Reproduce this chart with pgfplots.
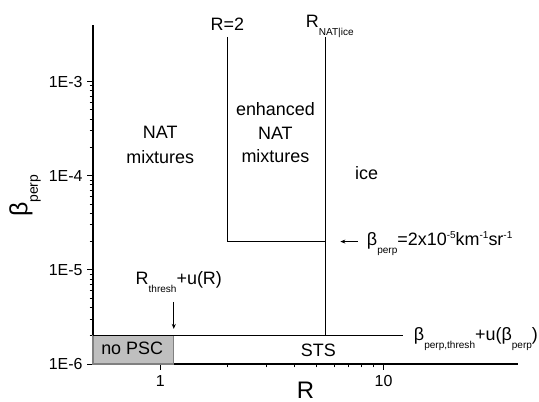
\documentclass[border=0pt]{standalone}
\usepackage{pgfplots}
\pgfplotsset{compat=1.18}
\usepackage{fontspec}
\setmainfont{Liberation Sans}
\usetikzlibrary{arrows.meta}

% Origin-style low subscripts and high superscripts
\newcommand{\lo}[1]{\raisebox{-0.42em}{\scalebox{0.56}{#1}}}
\newcommand{\hi}[1]{\raisebox{0.42em}{\scalebox{0.56}{#1}}}
\newcommand{\fs}[1]{\fontsize{#1}{#1}\selectfont}

\begin{document}
\begin{tikzpicture}
\useasboundingbox (-93bp,-38bp) rectangle (446bp,364bp);
\begin{axis}[
  scale only axis, width=425bp, height=339bp,
  xmode=log, ymode=log,
  xmin=0.5, xmax=40, ymin=1e-6, ymax=4e-3,
  axis lines=left, axis line style={-, line width=1.3pt},
  tick align=outside, tick style={black, line width=1pt},
  major tick length=6bp, minor tick length=3.5bp,
  xtick={1,10}, xticklabels={1,10},
  ytick={1e-6,1e-5,1e-4,1e-3}, yticklabels={1E-6,1E-5,1E-4,1E-3},
  /pgf/number format/assume math mode=true,
  every tick label/.append style={font=\fs{16}},
  xticklabel style={yshift=-2bp},
  yticklabel style={xshift=-1bp},
  xlabel={R}, ylabel={β\lo{perp}},
  every axis x label/.style={at={(axis description cs:0.5,0)}, anchor=center, yshift=-26bp, font=\fs{24}},
  every axis y label/.style={at={(axis description cs:0,0.496)}, anchor=center, xshift=-68bp, rotate=90, font=\fs{25}},
  clip=false,
  every node/.append style={inner sep=0pt},
]

% no PSC region
\addplot[fill=black!25, draw=black!50, line width=1.2pt] coordinates {
  (0.5,1e-6) (1.15,1e-6) (1.15,2e-6) (0.5,2e-6)} -- cycle;

% beta_perp threshold
\addplot[black, line width=1.5pt] coordinates {(0.5,2e-6) (12.2,2e-6)};

% R = 2 boundary and beta_perp = 2e-5
\addplot[black, line width=1.5pt] coordinates {(2,3e-3) (2,2e-5) (5.5,2e-5)};

% R_NAT|ice boundary
\addplot[black, line width=1.5pt] coordinates {(5.5,3e-3) (5.5,2e-6)};

% arrows
\addplot[black, line width=0.9pt, -{Stealth[length=5bp,width=4bp]}] coordinates {(1.15,4.57e-6) (1.15,2.36e-6)};
\addplot[black, line width=0.9pt, -{Stealth[length=5bp,width=4bp]}] coordinates {(7.65,2e-5) (6.41,2e-5)};

% labels
\node[font=\fs{18}] at (axis cs:2,4.04e-3) {R=2};
\node[font=\fs{18}, anchor=base west] at (axis cs:4.33,3.75e-3) {R\lo{NAT|ice}};
\node[font=\fontsize{18}{25}\selectfont, align=center] at (axis cs:1.0,2.14e-4) {NAT\\mixtures};
\node[font=\fontsize{18}{23.5}\selectfont, align=center] at (axis cs:3.28,2.86e-4) {enhanced\\NAT\\mixtures};
\node[font=\fs{18}] at (axis cs:8.39,1.08e-4) {ice};
\node[font=\fs{18}, anchor=base west] at (axis cs:0.749,6.92e-6) {R\lo{thresh}+u(R)};
\node[font=\fs{18}] at (axis cs:0.749,1.45e-6) {no PSC};
\node[font=\fs{18}] at (axis cs:5.11,1.41e-6) {STS};
\node[font=\fs{18}, anchor=base west] at (axis cs:8.13,1.8e-5) {β\lo{perp}=2x10\hi{-5}km\hi{-1}sr\hi{-1}};
\node[font=\fs{18}, anchor=base west] at (axis cs:13.2,1.76e-6) {β\lo{perp,thresh}+u(β\lo{perp})};

\end{axis}
\end{tikzpicture}
\end{document}
